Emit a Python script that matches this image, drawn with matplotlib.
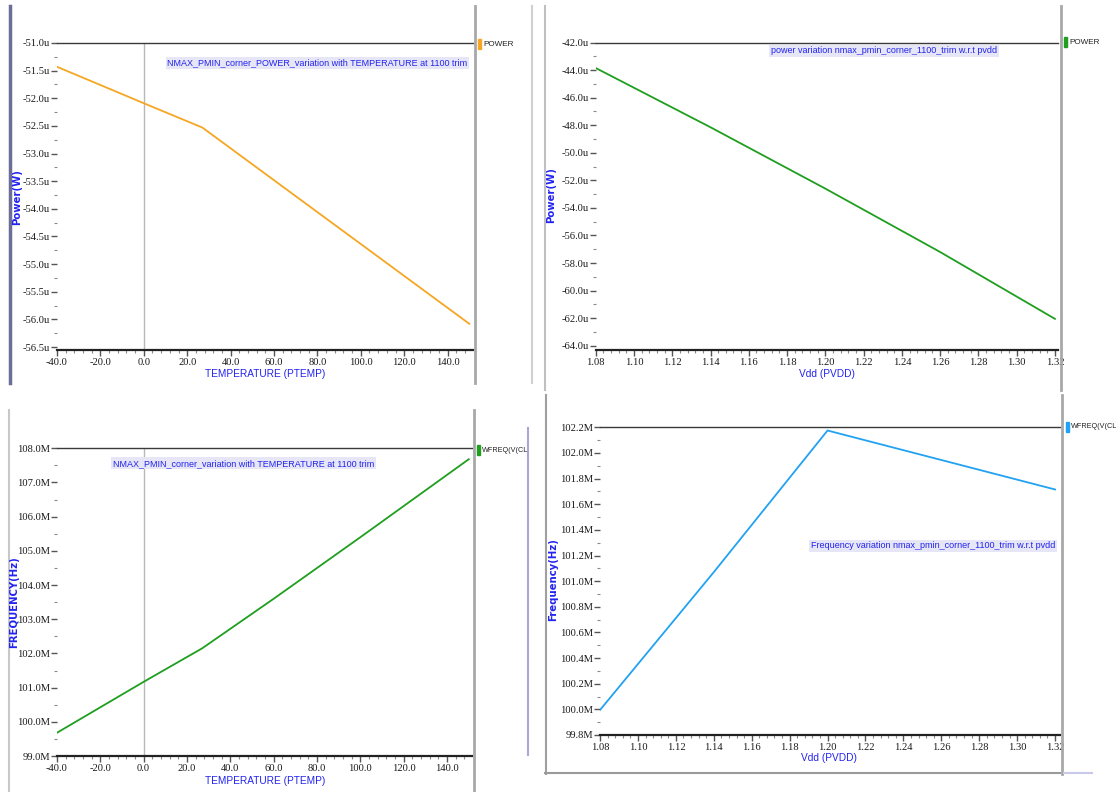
import matplotlib
matplotlib.use('Agg')
import matplotlib.pyplot as plt
from matplotlib.lines import Line2D
from matplotlib.patches import Rectangle
from matplotlib.ticker import MultipleLocator, FuncFormatter

# top left: power (uW) vs temperature
temp_p = [-40, 0, 27, 150]
power_t = [-51.43, -52.09, -52.53, -56.08]

# top right: power (uW) vs vdd
vdd_p = [1.08, 1.14, 1.20, 1.26, 1.32]
power_v = [-43.85, -48.15, -52.6, -57.2, -62.05]

# bottom left: frequency (MHz) vs temperature
temp_f = [-40, 0, 27, 60, 100, 150]
freq_t = [99.68, 101.17, 102.15, 103.6, 105.4, 107.68]

# bottom right: frequency (MHz) vs vdd
vdd_f = [1.08, 1.14, 1.20, 1.26, 1.32]
freq_v = [99.995, 101.07, 102.175, 101.945, 101.715]

notes = ['NMAX_PMIN_corner_POWER_variation with TEMPERATURE at 1100 trim',
         'power variation nmax_pmin_corner_1100_trim w.r.t pvdd',
         'NMAX_PMIN_corner_variation with TEMPERATURE at 1100 trim',
         'Frequency variation nmax_pmin_corner_1100_trim w.r.t pvdd']
legend_names = ['POWER', 'POWER', 'WFREQ(V(CL', 'WFREQ(V(CL']
ylabels = ['Power(W)', 'Power(W)', 'FREQUENCY(Hz)', 'Frequency(Hz)']
xlabels = ['TEMPERATURE (PTEMP)', 'Vdd (PVDD)', 'TEMPERATURE (PTEMP)', 'Vdd (PVDD)']

W, H = 1120, 792
BLUE = '#2323f0'
NARROW = ['Liberation Sans', 'DejaVu Sans']

fig = plt.figure(figsize=(11.2, 7.92), dpi=100)
fig.patch.set_facecolor('white')


def fx(x):
    return x / W


def fy(y):
    return 1 - y / H


def vline(x, y1, y2, color='#a0a0a0', lw=1.5):
    fig.add_artist(Line2D([fx(x), fx(x)], [fy(y1), fy(y2)], color=color, lw=lw,
                          transform=fig.transFigure))


def hline(y, x1, x2, color='#a0a0a0', lw=1.5):
    fig.add_artist(Line2D([fx(x1), fx(x2)], [fy(y), fy(y)], color=color, lw=lw,
                          transform=fig.transFigure))


def panel(box, xs, ys, color, xlim, ylim, xstep, ystep, xdec, unit, zero_line):
    l, t, r, b = box
    ax = fig.add_axes([fx(l), fy(b), fx(r) - fx(l), fy(t) - fy(b)])
    ax.plot(xs, ys, color=color, lw=1.3)
    if zero_line:
        ax.axvline(0, color='#b8b8b8', lw=1.0, zorder=0)
    ax.set_xlim(xlim)
    ax.set_ylim(ylim)
    ax.spines['left'].set_visible(False)
    ax.spines['right'].set_visible(False)
    ax.spines['top'].set_color('#3a3a3a')
    ax.spines['top'].set_linewidth(1.0)
    ax.spines['bottom'].set_color('#222222')
    ax.spines['bottom'].set_linewidth(1.6)
    ax.xaxis.set_major_locator(MultipleLocator(xstep))
    ax.xaxis.set_minor_locator(MultipleLocator(xstep / 5))
    ax.yaxis.set_major_locator(MultipleLocator(ystep))
    ax.yaxis.set_minor_locator(MultipleLocator(ystep / 2))
    ax.xaxis.set_major_formatter(FuncFormatter(lambda v, p: f'{round(v, xdec) + 0:.{xdec}f}'))
    ax.yaxis.set_major_formatter(FuncFormatter(lambda v, p: f'{round(v, 1) + 0:.1f}{unit}'))
    ax.tick_params(axis='both', which='major', length=4, width=1.0, color='#555555',
                   labelsize=7.6, labelcolor='#1a1a1a', labelfontfamily='Liberation Serif')
    ax.tick_params(axis='x', which='major', pad=1.5)
    ax.tick_params(axis='y', which='major', pad=1.0)
    ax.tick_params(axis='both', which='minor', length=2.5, width=0.8, color='#8a8a8a')
    return ax


boxes = [(57, 43, 473, 350), (595.7, 42.5, 1058, 350),
         (57, 448.3, 472, 756), (600, 427.3, 1060, 735)]

panel(boxes[0], temp_p, power_t, '#f5a623', (-40, 151.7), (-56.554, -51.0), 20, 0.5, 1, 'u', True)
panel(boxes[1], vdd_p, power_v, '#1f9e1f', (1.08, 1.3216), (-64.31, -42.0), 0.02, 2, 2, 'u', False)
panel(boxes[2], temp_f, freq_t, '#1f9e1f', (-40, 151.5), (99.0, 108.0), 20, 1, 1, 'M', True)
panel(boxes[3], vdd_f, freq_v, '#22a2f2', (1.08, 1.3226), (99.8, 102.2), 0.02, 0.2, 2, 'M', False)

# window frames of the four screenshots
vline(10, 6, 383, color='#6d6d9a', lw=2.5)
vline(475, 6, 383, color='#a8a8a8', lw=2)
vline(532, 6, 383, color='#d0d0d0', lw=1.5)
vline(545, 6, 390, color='#c0c0c0', lw=1.5)
vline(1061, 6, 390, color='#a8a8a8', lw=2)
vline(9, 410, 792, color='#c8c8c8', lw=1.5)
vline(474, 410, 792, color='#a8a8a8', lw=2)
vline(528, 428, 755, color='#a8a8d8', lw=1.5)
vline(545.6, 395, 774, color='#a0a0a0', lw=1.5)
vline(1062, 395, 774, color='#a8a8a8', lw=2)
hline(773, 545, 1060, color='#9a9a9a', lw=1.5)
hline(773, 1064, 1092, color='#c8c8e8', lw=1.5)

# legends to the right of each plot
legend_pos = [(478, 44, '#f5a623'), (1064, 42, '#1f9e1f'),
              (476.5, 450, '#1f9e1f'), (1066, 427, '#22a2f2')]
legend_size = [5.9, 5.9, 5.2, 5.2]
for (x, y, c), name, fs in zip(legend_pos, legend_names, legend_size):
    fig.add_artist(Rectangle((fx(x), fy(y + 5)), 3 / W, 10 / H, color=c,
                             transform=fig.transFigure))
    fig.text(fx(x + 5), fy(y), name, fontsize=fs, family=NARROW, color='#222222',
             va='center', ha='left')

# annotation labels inside the plots
note_pos = [(317.5, 62.7), (884, 50.7), (243.5, 463.3), (933, 546)]
for (x, y), s in zip(note_pos, notes):
    fig.text(fx(x), fy(y), s, fontsize=6.5, family=NARROW, color=BLUE, ha='center',
             va='center', bbox=dict(facecolor='#e6e6f6', edgecolor='none', pad=1.2))

# axis titles
ylab_pos = [(17, 197), (551, 195), (14.5, 602), (553, 580)]
for (x, y), s in zip(ylab_pos, ylabels):
    fig.text(fx(x), fy(y), s, rotation=90, fontsize=7.3, fontweight='bold',
             color=BLUE, ha='center', va='center')
xlab_pos = [(265, 374.3), (826.7, 374.3), (265, 780.7), (829, 758.3)]
for (x, y), s in zip(xlab_pos, xlabels):
    fig.text(fx(x), fy(y), s, fontsize=7.3, family=NARROW, color=BLUE,
             ha='center', va='center')

plt.savefig('out.png', dpi=100)
